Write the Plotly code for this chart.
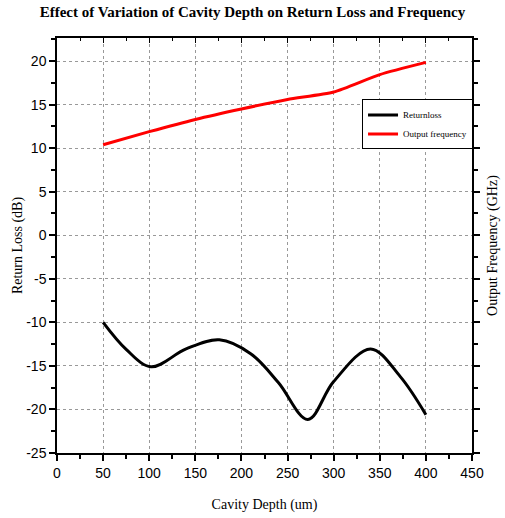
import plotly.graph_objects as go

# Data
depth_rl = [50, 75, 102, 140, 176, 210, 240, 272, 300, 340, 372, 400]
return_loss = [-10.0, -13.1, -15.1, -13.05, -12.0, -13.6, -16.9, -21.15, -16.8, -13.05, -16.2, -20.6]

depth_f = [50, 100, 150, 200, 250, 300, 350, 400]
output_freq = [10.4, 11.9, 13.3, 14.5, 15.6, 16.45, 18.45, 19.85]

x_ticks = [0, 50, 100, 150, 200, 250, 300, 350, 400, 450]
y_ticks = [-25, -20, -15, -10, -5, 0, 5, 10, 15, 20]

serif = "Liberation Serif"
sans = "Liberation Sans"

fig = go.Figure()
fig.add_trace(go.Scatter(x=depth_rl, y=return_loss, mode="lines", name="Returnloss",
                         line=dict(color="black", width=3, shape="spline", smoothing=1.0)))
fig.add_trace(go.Scatter(x=depth_f, y=output_freq, mode="lines", name="Output frequency",
                         line=dict(color="#ff0000", width=3, shape="spline", smoothing=0.6)))
# invisible trace to activate secondary axes
fig.add_trace(go.Scatter(x=[0], y=[0], xaxis="x2", yaxis="y2", mode="markers",
                         marker=dict(opacity=0), showlegend=False, hoverinfo="skip"))

yr = [-25, 22.65]
xr = [0, 450]
x_minor = list(range(25, 450, 50))
y_minor = [-22.5 + 5 * i for i in range(10)]

fig.update_layout(
    width=505, height=518,
    margin=dict(l=57, r=33, t=38, b=65),
    paper_bgcolor="white", plot_bgcolor="white",
    title=dict(text="<b>Effect of Variation of Cavity Depth on Return Loss and Frequency</b>",
               x=0.5, xanchor="center", y=0.977, yanchor="middle",
               font=dict(family=serif, size=15, color="black")),
    showlegend=True,
    legend=dict(x=0.735, y=0.852, xanchor="left", yanchor="top",
                bgcolor="white", bordercolor="black", borderwidth=1,
                font=dict(family=serif, size=9, color="black"),
                tracegroupgap=0, itemwidth=30),
    xaxis=dict(range=xr, tickvals=x_ticks, ticktext=[str(v) for v in x_ticks],
               ticks="outside", ticklen=6, tickwidth=1.5, tickcolor="black",
               showline=True, linecolor="black", linewidth=1.5,
               showgrid=True, gridcolor="#999999", griddash="dot", gridwidth=1,
               zeroline=False, automargin=False,
               minor=dict(tickvals=x_minor, ticks="outside", ticklen=4,
                          tickcolor="black", showgrid=False),
               tickfont=dict(family=sans, size=14, color="black"),
               title=dict(text="Cavity Depth (um)", font=dict(family=serif, size=14, color="black"),
                          standoff=20)),
    yaxis=dict(range=yr, tickvals=y_ticks, ticktext=[str(v) for v in y_ticks],
               ticks="outside", ticklen=6, tickwidth=1.5, tickcolor="black",
               showline=True, linecolor="black", linewidth=1.5,
               showgrid=True, gridcolor="#999999", griddash="dot", gridwidth=1,
               zeroline=False, automargin=False,
               minor=dict(tickvals=y_minor, ticks="outside", ticklen=4,
                          tickcolor="black", showgrid=False),
               tickfont=dict(family=sans, size=14, color="black"),
               title=dict(text="Return Loss (dB)", font=dict(family=serif, size=14, color="black"),
                          standoff=0)),
    xaxis2=dict(range=xr, overlaying="x", side="top", showticklabels=False,
                tickvals=x_ticks, ticks="inside", ticklen=5, tickwidth=1, tickcolor="black",
                showline=True, linecolor="black", linewidth=1.5, showgrid=False, zeroline=False,
                automargin=False,
                minor=dict(tickvals=x_minor, ticks="inside", ticklen=3, tickcolor="black")),
    yaxis2=dict(range=yr, overlaying="y", side="right", showticklabels=False,
                tickvals=y_ticks, ticks="outside", ticklen=6, tickwidth=1.5, tickcolor="black",
                showline=True, linecolor="black", linewidth=1.5, showgrid=False, zeroline=False,
                automargin=False,
                minor=dict(tickvals=y_minor, ticks="outside", ticklen=4, tickcolor="black"),
                title=dict(text="Output Frequency (GHz)", font=dict(family=serif, size=14, color="black"),
                           standoff=8)),
)

fig.write_html("out.html")
